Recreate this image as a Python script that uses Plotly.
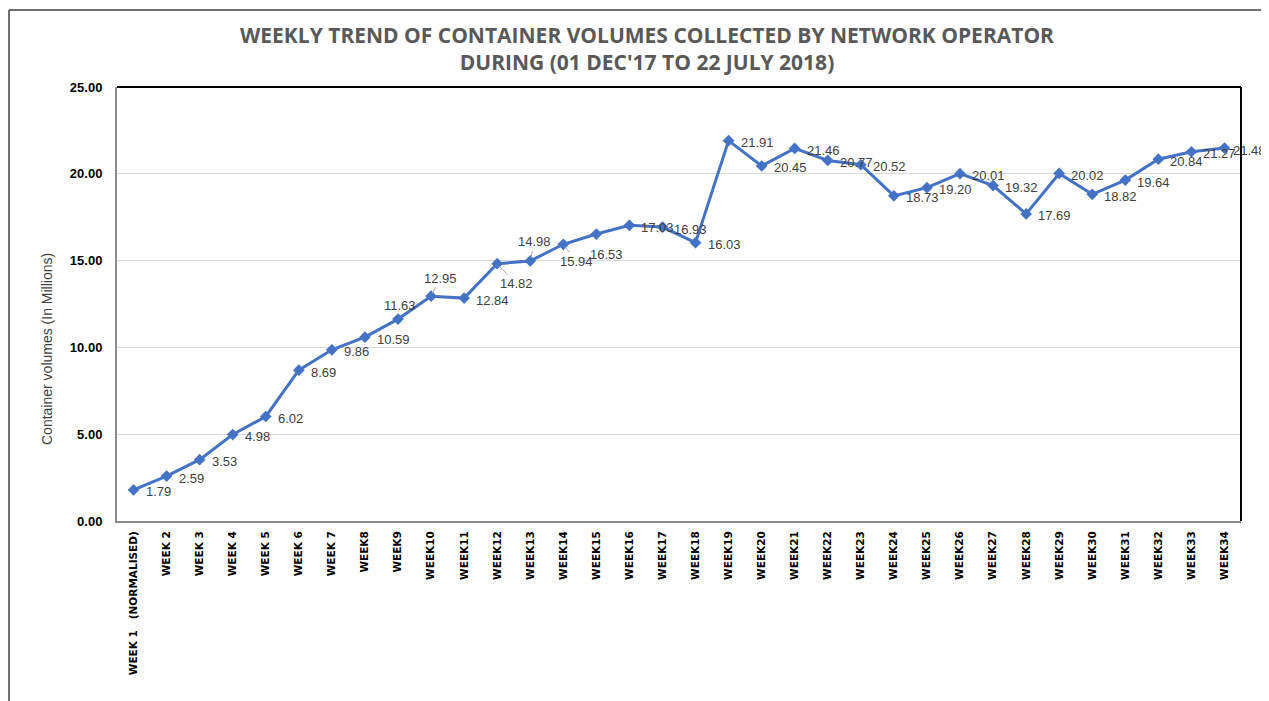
import plotly.graph_objects as go

weeks = ["WEEK 1\u00a0\u00a0\u00a0(NORMALISED)", "WEEK 2", "WEEK 3", "WEEK 4", "WEEK 5", "WEEK 6", "WEEK 7",
         "WEEK8", "WEEK9", "WEEK10", "WEEK11", "WEEK12", "WEEK13", "WEEK14", "WEEK15", "WEEK16",
         "WEEK17", "WEEK18", "WEEK19", "WEEK20", "WEEK21", "WEEK22", "WEEK23", "WEEK24", "WEEK25",
         "WEEK26", "WEEK27", "WEEK28", "WEEK29", "WEEK30", "WEEK31", "WEEK32", "WEEK33", "WEEK34"]
volumes = [1.79, 2.59, 3.53, 4.98, 6.02, 8.69, 9.86, 10.59, 11.63, 12.95, 12.84, 14.82, 14.98,
           15.94, 16.53, 17.03, 16.93, 16.03, 21.91, 20.45, 21.46, 20.77, 20.52, 18.73, 19.20,
           20.01, 19.32, 17.69, 20.02, 18.82, 19.64, 20.84, 21.27, 21.48]
y_ticks = [0, 5, 10, 15, 20, 25]

# page has an 8px body margin; figure coordinates are page coordinates minus 8
OFF = 8
W, H = 1269 - OFF, 701 - OFF
ML, MT = 117 - OFF, 87 - OFF
MR = W - (1241 - OFF)
MB = H - (521 - OFF)
PW, PH = W - ML - MR, H - MT - MB

LINE = "#4472C4"
LBL = "#404040"

fig = go.Figure()
fig.add_trace(go.Scatter(
    x=weeks, y=volumes, mode="lines+markers",
    line=dict(color=LINE, width=3),
    marker=dict(symbol="diamond", size=9, color=LINE),
    hoverinfo="x+y", showlegend=False,
))

# label placement overrides: index -> (ax, ay, leader)
special = {
    8: (2, -14, False),
    9: (9, -18, True),
    11: (19, 20, True),
    12: (4, -19, True),
    13: (13, 17, True),
    14: (10, 20, False),
}

def px_x(p):
    return (p - OFF - ML) / PW

def px_y(p):
    return (H - MB - (p - OFF)) / PH

lblfont = dict(family="Liberation Sans", size=13, color=LBL)
annotations = []
for i, (w, v) in enumerate(zip(weeks, volumes)):
    txt = f"{v:.2f}"
    if i in special:
        ax, ay, leader = special[i]
        if leader:
            annotations.append(dict(
                x=w, y=v, xref="x", yref="y", text=txt, showarrow=True,
                arrowhead=0, arrowwidth=1, arrowcolor="#a6a6a6", ax=ax, ay=ay,
                standoff=3, font=lblfont,
            ))
        else:
            annotations.append(dict(
                x=w, y=v, xref="x", yref="y", text=txt, showarrow=False,
                xshift=ax, yshift=-ay, xanchor="center", yanchor="middle", font=lblfont,
            ))
    else:
        annotations.append(dict(
            x=w, y=v, xref="x", yref="y", text=txt, showarrow=False,
            xanchor="left", yanchor="middle",
            xshift=7 if i == len(volumes) - 1 else 10, yshift=-2, font=lblfont,
        ))

annotations.append(dict(
    x=px_x(47), y=px_y(349), xref="paper", yref="paper", text="Container volumes (In Millions)",
    textangle=-90, showarrow=False, xanchor="center", yanchor="middle",
    font=dict(family="Liberation Sans", size=14, color=LBL),
))

shapes = [
    # outer chart border (left & top)
    dict(type="line", xref="paper", yref="paper", x0=px_x(9), x1=px_x(9), y0=px_y(720), y1=px_y(10),
         line=dict(color="#404040", width=1.5)),
    dict(type="line", xref="paper", yref="paper", x0=px_x(9), x1=px_x(1290), y0=px_y(10), y1=px_y(10),
         line=dict(color="#404040", width=1.5)),
    # plot area top and right borders
    dict(type="line", xref="paper", yref="paper", x0=0, x1=1, y0=1, y1=1,
         line=dict(color="#000000", width=2)),
    dict(type="line", xref="paper", yref="paper", x0=1, x1=1, y0=0, y1=1,
         line=dict(color="#000000", width=2)),
]

fig.update_layout(
    width=W, height=H,
    margin=dict(l=ML, r=MR, t=MT, b=MB),
    paper_bgcolor="white", plot_bgcolor="white",
    title=dict(
        text="WEEKLY TREND OF CONTAINER VOLUMES COLLECTED BY NETWORK OPERATOR<br>DURING (01 DEC'17 TO 22 JULY 2018)",
        x=(647 - OFF) / W, xanchor="center", xref="container",
        y=1 - 35 / H, yanchor="top", yref="container",
        font=dict(family="Open Sans", size=21, color="#595959", weight="bold"),
    ),
    xaxis=dict(
        type="category", range=[-0.5, len(weeks) - 0.5],
        tickangle=-90, showgrid=False, showline=True, linecolor="#8c8c8c", linewidth=2,
        tickfont=dict(family="DejaVu Sans", size=10.5, color="#000000", weight="bold"),
        ticks="", ticklabelstandoff=4, zeroline=False,
    ),
    yaxis=dict(
        range=[0, 25], tickvals=y_ticks, tickformat=".2f",
        showgrid=True, gridcolor="#d9d9d9", gridwidth=1,
        showline=True, linecolor="#8c8c8c", linewidth=2, zeroline=False,
        tickfont=dict(family="Liberation Sans", size=13, color="#000000", weight="bold"),
        ticks="", ticklabelstandoff=10,
    ),
    annotations=annotations,
    shapes=shapes,
)

fig.write_html("out.html")
